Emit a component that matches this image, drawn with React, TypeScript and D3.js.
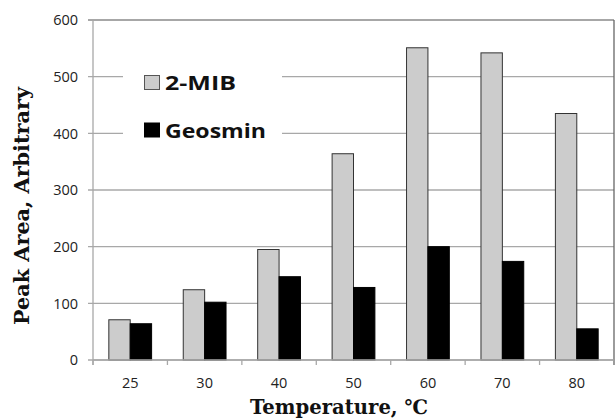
import React from "react";
import * as d3 from "d3";

const categories = ["25", "30", "40", "50", "60", "70", "80"];
const seriesNames = ["2-MIB", "Geosmin"];
const mib = [71, 124, 195, 364, 551, 542, 435];
const geosmin = [64, 102, 147, 128, 200, 174, 55];
const yTicks = [0, 100, 200, 300, 400, 500, 600];
const colors = ["#cccccc", "#000000"];
const legendWidths = [71, 101];

const W = 615;
const H = 418;
const M = { left: 93, right: 614, top: 20, bottom: 360 };

export default function App() {
  const x0 = d3.scaleBand().domain(categories).range([M.left, M.right]).paddingInner(0).paddingOuter(0);
  const x1 = d3.scaleBand().domain(seriesNames).range([0, x0.bandwidth()]).paddingInner(0).paddingOuter(0.74);
  const y = d3.scaleLinear().domain([0, 600]).range([M.bottom, M.top]);
  const values = [mib, geosmin];
  const gridColor = "#a8a8a8";
  const tickFont = "'Open Sans', 'Noto Sans', sans-serif";
  const serif = "'DejaVu Serif', 'Liberation Serif', serif";

  return (
    <svg width={W} height={H} style={{ position: "absolute", left: 0, top: 0, background: "#fff" }}>
      {yTicks.map((t) => (
        <g key={t}>
          <line x1={M.left - 5} x2={M.right} y1={y(t)} y2={y(t)} stroke={t === 600 ? "#8a8a8a" : gridColor} strokeWidth={1.3} />
          <text x={78} y={y(t)} dy="0.36em" textAnchor="end" fontFamily={tickFont} fontSize={14.5} fill="#222">
            {t}
          </text>
        </g>
      ))}
      <line x1={M.left} x2={M.left} y1={M.top} y2={M.bottom + 5} stroke={gridColor} strokeWidth={1.3} />
      <line x1={M.right} x2={M.right} y1={M.top} y2={M.bottom + 5} stroke="#666" strokeWidth={1.3} />
      {categories.map((c, i) => (
        <line key={"t" + i} x1={x0(c)!} x2={x0(c)!} y1={M.bottom} y2={M.bottom + 5} stroke={gridColor} strokeWidth={1.3} />
      ))}
      {categories.map((c) => (
        <text key={"l" + c} x={x0(c)! + x0.bandwidth() / 2} y={388} textAnchor="middle" fontFamily={tickFont} fontSize={14.5} fill="#222">
          {c}
        </text>
      ))}
      <rect x={123} y={58} width={159} height={94} fill="#fff" />
      {categories.map((c, i) =>
        seriesNames.map((s, j) => {
          const v = values[j][i];
          return (
            <rect
              key={c + s}
              x={x0(c)! + x1(s)!}
              y={y(v)}
              width={x1.bandwidth()}
              height={y(0) - y(v)}
              fill={colors[j]}
              stroke={j === 0 ? "#333" : "#000"}
              strokeWidth={1}
            />
          );
        })
      )}
      <line x1={M.left} x2={M.right} y1={M.bottom} y2={M.bottom} stroke={gridColor} strokeWidth={1.3} />
      {seriesNames.map((s, j) => (
        <g key={"lg" + s}>
          <rect x={144.5} y={75.5 + j * 47.5} width={15} height={14} fill={colors[j]} stroke={j === 0 ? "#555" : "#000"} strokeWidth={1} />
          <text
            x={165}
            y={90 + j * 47.5}
            fontFamily="'Open Sans', 'Noto Sans', sans-serif"
            fontWeight="bold"
            fontSize={20}
            fill="#111"
            textLength={legendWidths[j]}
            lengthAdjust="spacingAndGlyphs"
          >
            {s}
          </text>
        </g>
      ))}
      <text
        transform={`translate(29, 206) rotate(-90)`}
        textAnchor="middle"
        fontFamily={serif}
        fontWeight="bold"
        fontSize={21}
        fill="#111"
        textLength={238}
        lengthAdjust="spacingAndGlyphs"
      >
        Peak Area, Arbitrary
      </text>
      <text
        x={339}
        y={414}
        textAnchor="middle"
        fontFamily={serif}
        fontWeight="bold"
        fontSize={20}
        fill="#111"
        textLength={178}
        lengthAdjust="spacingAndGlyphs"
      >
        Temperature, ℃
      </text>
    </svg>
  );
}
